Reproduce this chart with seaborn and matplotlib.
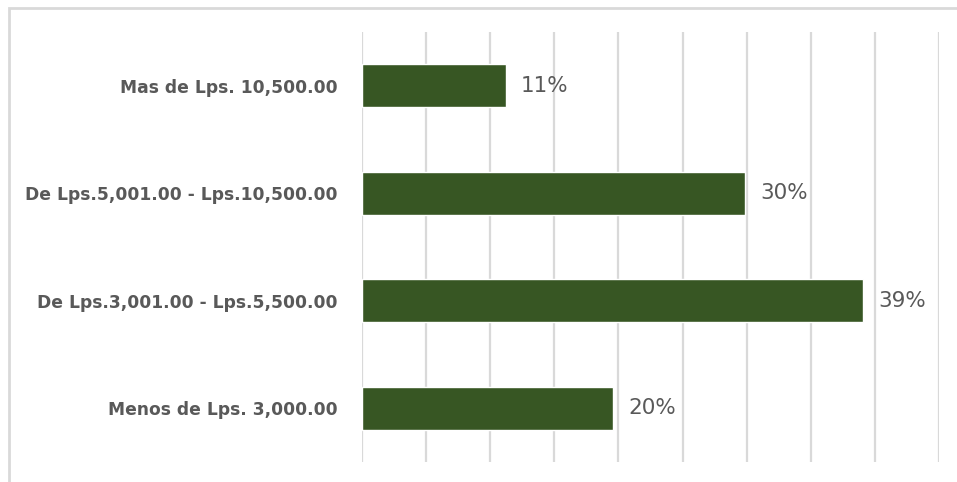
import matplotlib.pyplot as plt
import numpy as np
import pandas as pd
import seaborn as sns

categories = ["Mas de Lps. 10,500.00",
              "De Lps.5,001.00 - Lps.10,500.00",
              "De Lps.3,001.00 - Lps.5,500.00",
              "Menos de Lps. 3,000.00"]
values = [11.2, 29.9, 39.1, 19.6]
value_labels = ["11%", "30%", "39%", "20%"]
x_ticks = [0, 5, 10, 15, 20, 25, 30, 35, 40, 45]

df = pd.DataFrame({"rango": categories, "pct": values})

sns.set_style("white")
plt.rcParams['font.family'] = ['DejaVu Sans']

fig = plt.figure(figsize=(9.57, 4.82), dpi=100)
ax = fig.add_axes([362/957, 1 - 462/482, (939 - 362)/957, (462 - 32)/482])

sns.barplot(data=df, x="pct", y="rango", orient="h", color="#375623",
            saturation=1, width=0.4, ax=ax)

ax.set_xlim(0, 45)
ax.set_ylim(3.5, -0.5)
ax.set_xticks(x_ticks)
ax.xaxis.grid(True, color="#d9d9d9", linewidth=1.6)
ax.set_axisbelow(True)
for s in ax.spines.values():
    s.set_visible(False)
ax.set_xlabel("")
ax.set_ylabel("")
ax.tick_params(axis="x", bottom=False, labelbottom=False)
ax.tick_params(axis="y", left=False, pad=14)
for lab in ax.get_yticklabels():
    lab.set_fontweight("bold")
    lab.set_fontsize(12.3)
    lab.set_color("#595959")

for i, (v, t) in enumerate(zip(values, value_labels)):
    ax.annotate(t, (v, i), xytext=(11, 0), textcoords="offset points",
                va="center", ha="left", fontsize=15.5, color="#595959")

# chart frame (only top and left edges visible in the screenshot)
fig.add_artist(plt.Rectangle((8.5/957, -0.2), 1.2, 1.2 - 7.5/482,
                             transform=fig.transFigure, fill=False,
                             edgecolor="#d9d9d9", linewidth=2))

fig.savefig("out.png", dpi=100)
